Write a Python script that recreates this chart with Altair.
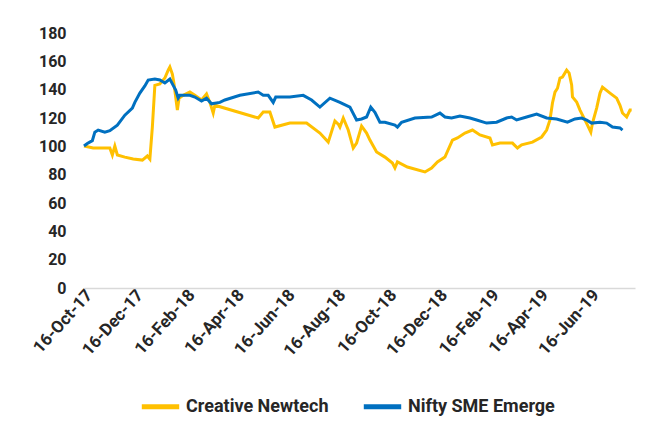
import altair as alt
import pandas as pd

series_names = ["Creative Newtech", "Nifty SME Emerge"]
series_colors = ["#FFC000", "#0070C0"]

cn_dates = [
    "2017-10-16", "2017-10-27", "2017-11-16", "2017-11-19", "2017-11-22", "2017-11-25",
    "2017-12-04", "2017-12-14", "2017-12-25", "2017-12-31", "2018-01-03", "2018-01-06",
    "2018-01-09", "2018-01-15", "2018-01-21", "2018-01-25", "2018-01-27", "2018-01-30",
    "2018-02-01", "2018-02-05", "2018-02-07", "2018-02-12", "2018-02-20", "2018-02-26",
    "2018-03-06", "2018-03-12", "2018-03-16", "2018-03-20", "2018-03-22", "2018-05-13",
    "2018-05-19", "2018-05-27", "2018-06-02", "2018-06-20", "2018-07-10", "2018-07-26",
    "2018-08-05", "2018-08-13", "2018-08-17", "2018-08-19", "2018-08-23", "2018-08-29",
    "2018-09-04", "2018-09-08", "2018-09-14", "2018-09-20", "2018-09-24", "2018-10-02",
    "2018-10-12", "2018-10-21", "2018-10-24", "2018-10-27", "2018-11-08", "2018-11-29",
    "2018-12-07", "2018-12-14", "2018-12-23", "2019-01-01", "2019-01-07", "2019-01-16",
    "2019-01-25", "2019-02-03", "2019-02-15", "2019-02-18", "2019-02-27", "2019-03-14",
    "2019-03-20", "2019-03-25", "2019-04-07", "2019-04-18", "2019-04-24", "2019-04-28",
    "2019-05-01", "2019-05-04", "2019-05-07", "2019-05-10", "2019-05-13", "2019-05-18",
    "2019-05-21", "2019-05-24", "2019-05-25", "2019-05-30", "2019-06-03", "2019-06-06",
    "2019-06-12", "2019-06-16", "2019-06-18", "2019-06-23", "2019-06-27", "2019-06-30",
    "2019-07-09", "2019-07-17", "2019-07-21", "2019-07-24", "2019-07-29", "2019-08-02",
    "2019-08-04",
]
cn_values = [
    100.2, 98.8, 98.8, 93.9, 100.2, 93.9,
    92.4, 91.0, 90.3, 93.2, 91.0, 113.6,
    143.0, 144.0, 148.2, 153.8, 156.0, 151.0,
    144.0, 125.6, 134.0, 136.0, 138.3, 136.0,
    132.7, 137.0, 131.0, 123.5, 129.0, 120.0,
    124.2, 124.2, 113.6, 116.4, 116.4, 109.4,
    103.0, 117.9, 115.7, 113.6, 120.0, 111.5,
    98.8, 102.3, 114.3, 109.4, 104.4, 96.0,
    92.4, 88.2, 84.7, 89.0, 85.4, 81.9,
    84.7, 89.0, 92.4, 104.4, 105.9, 109.4,
    111.5, 108.0, 105.9, 101.0, 102.3, 102.3,
    98.8, 101.0, 103.0, 106.6, 111.5, 118.6,
    130.6, 138.3, 141.0, 148.2, 148.9, 153.8,
    151.7, 143.3, 134.8, 131.3, 125.6, 122.0,
    115.0, 110.0, 116.4, 127.0, 137.6, 141.8,
    137.6, 134.0, 129.0, 123.5, 120.7, 125.6,
    125.6,
]

nifty_dates = [
    "2017-10-16", "2017-10-20", "2017-10-26", "2017-10-29", "2017-11-02", "2017-11-10",
    "2017-11-16", "2017-11-25", "2017-12-04", "2017-12-13", "2017-12-16", "2017-12-22",
    "2017-12-28", "2018-01-01", "2018-01-09", "2018-01-15", "2018-01-21", "2018-01-27",
    "2018-01-31", "2018-02-03", "2018-02-06", "2018-02-08", "2018-02-20", "2018-02-26",
    "2018-03-06", "2018-03-12", "2018-03-18", "2018-03-28", "2018-04-03", "2018-04-21",
    "2018-05-13", "2018-05-19", "2018-05-25", "2018-05-31", "2018-06-03", "2018-06-20",
    "2018-07-06", "2018-07-16", "2018-07-26", "2018-08-07", "2018-08-19", "2018-08-31",
    "2018-09-08", "2018-09-14", "2018-09-20", "2018-09-25", "2018-09-30", "2018-10-06",
    "2018-10-12", "2018-10-24", "2018-10-27", "2018-11-01", "2018-11-17", "2018-12-07",
    "2018-12-17", "2018-12-23", "2018-12-31", "2019-01-10", "2019-01-22", "2019-01-30",
    "2019-02-11", "2019-02-23", "2019-03-07", "2019-03-13", "2019-03-19", "2019-03-31",
    "2019-04-12", "2019-04-24", "2019-05-06", "2019-05-19", "2019-05-28", "2019-06-05",
    "2019-06-11", "2019-06-17", "2019-06-27", "2019-07-05", "2019-07-12", "2019-07-21",
    "2019-07-24",
]
nifty_values = [
    100.2, 102.0, 104.0, 110.0, 111.5, 110.0,
    111.0, 115.0, 122.0, 127.0, 131.0, 137.6,
    142.6, 146.8, 147.5, 146.8, 144.7, 147.5,
    143.0, 139.7, 134.0, 136.0, 136.0, 134.8,
    132.0, 134.0, 130.0, 131.0, 132.7, 136.0,
    138.3, 136.0, 136.0, 131.0, 134.8, 134.8,
    136.0, 132.7, 127.7, 134.0, 131.0, 127.7,
    118.6, 119.3, 120.7, 127.7, 124.0, 117.0,
    117.0, 115.0, 113.6, 117.0, 120.0, 120.7,
    123.5, 120.7, 120.0, 121.4, 120.0, 118.6,
    116.4, 117.0, 120.0, 120.7, 118.6, 120.7,
    122.8, 120.0, 119.3, 117.0, 119.3, 120.0,
    118.6, 116.4, 117.0, 116.4, 113.6, 113.0,
    111.5,
]

tick_dates = [
    "2017-10-16", "2017-12-16", "2018-02-16", "2018-04-16", "2018-06-16", "2018-08-16",
    "2018-10-16", "2018-12-16", "2019-02-16", "2019-04-16", "2019-06-16",
]
y_ticks = [0, 20, 40, 60, 80, 100, 120, 140, 160, 180]

df = pd.concat([
    pd.DataFrame({"date": cn_dates, "value": cn_values, "series": series_names[0]}),
    pd.DataFrame({"date": nifty_dates, "value": nifty_values, "series": series_names[1]}),
])

tick_dt = [
    {"year": int(d[:4]), "month": int(d[5:7]), "date": int(d[8:10])} for d in tick_dates
]

chart = alt.Chart(df).mark_line(strokeWidth=3, interpolate="linear").encode(
    x=alt.X(
        "date:T",
        title=None,
        scale=alt.Scale(domain=[
            {"year": 2017, "month": 10, "date": 16},
            {"year": 2019, "month": 8, "date": 8},
        ]),
        axis=alt.Axis(
            values=tick_dt,
            format="%d-%b-%y",
            labelAngle=-48,
            labelAlign="right",
            labelBaseline="middle",
            labelOffset=5,
            ticks=False,
            grid=False,
            domain=True,
            domainColor="#d9d9d9",
            domainWidth=1.5,
            labelFont="Roboto",
            labelFontWeight="bold",
            labelFontSize=17,
            labelColor="#262626",
            labelPadding=4,
            labelOverlap=False,
        ),
    ),
    y=alt.Y(
        "value:Q",
        title=None,
        scale=alt.Scale(domain=[0, 180], nice=False),
        axis=alt.Axis(
            values=y_ticks,
            ticks=False,
            grid=False,
            domain=False,
            labelFont="Roboto",
            labelFontWeight="bold",
            labelFontSize=16,
            labelColor="#262626",
            labelPadding=18,
        ),
    ),
    color=alt.Color(
        "series:N",
        scale=alt.Scale(domain=series_names, range=series_colors),
        legend=alt.Legend(
            title=None,
            orient="none",
            legendX=55,
            legendY=352,
            direction="horizontal",
            symbolType="stroke",
            symbolSize=1400,
            symbolStrokeWidth=5,
            labelFont="Roboto",
            labelFontWeight="bold",
            labelFontSize=18,
            labelColor="#262626",
            labelOffset=4,
            columnPadding=24,
            labelLimit=300,
        ),
    ),
).properties(
    width=551,
    height=255,
    autosize=alt.AutoSizeParams(type="none"),
    padding={"left": 76, "top": 25, "right": 25, "bottom": 140},
).configure_view(stroke=None)

chart.save("out.html", embed_options={"renderer": "svg", "actions": False})
